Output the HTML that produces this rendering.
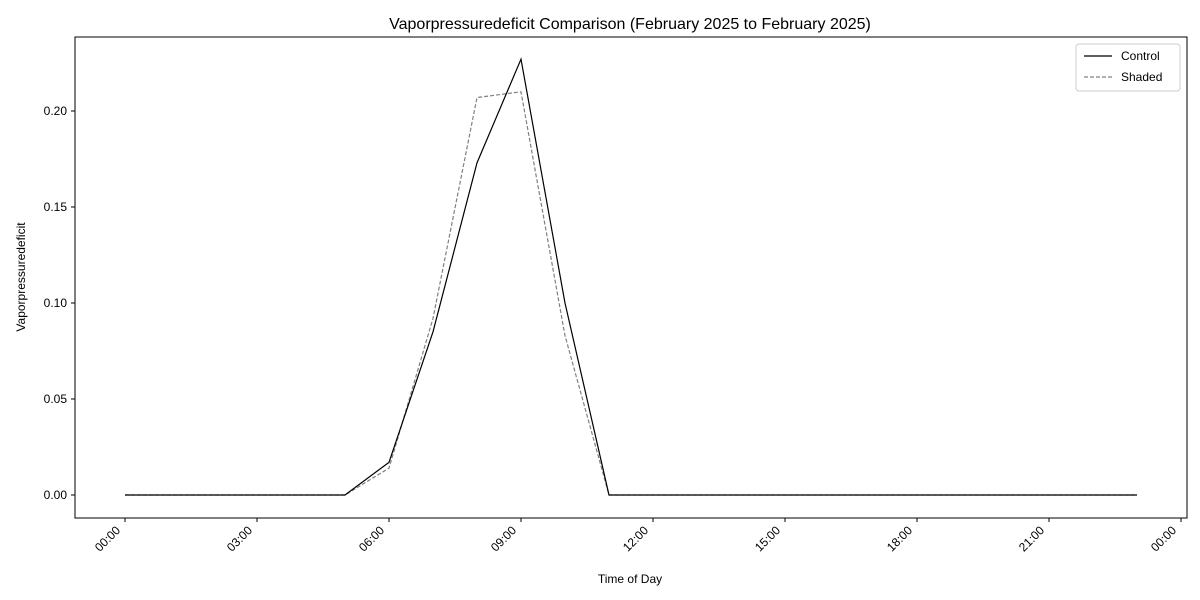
<!DOCTYPE html>
<html><head><meta charset="utf-8"><style>
body{margin:0;background:#fff;}
svg{display:block;font-family:"Liberation Sans","DejaVu Sans",sans-serif;}
</style></head><body>
<svg id="chart" width="1200" height="600"></svg>
<script>
const hours=[0,1,2,3,4,5,6,7,8,9,10,11,12,13,14,15,16,17,18,19,20,21,22,23];
const controlVals=[0,0,0,0,0,0,0.017,0.085,0.173,0.227,0.100,0,0,0,0,0,0,0,0,0,0,0,0,0];
const shadedVals=[0,0,0,0,0,0,0.014,0.092,0.207,0.210,0.083,0,0,0,0,0,0,0,0,0,0,0,0,0];
const yTicks=[0,0.05,0.10,0.15,0.20];
const xTickHours=[0,3,6,9,12,15,18,21,24];
const xTickLabels=["00:00","03:00","06:00","09:00","12:00","15:00","18:00","21:00","00:00"];

const NS="http://www.w3.org/2000/svg";
const svg=document.getElementById('chart');
const L=75,R=1187,T=37,B=518;
const xs=h=>125+h*44;
const ys=v=>495-v*1920;
function el(t,a,p){const e=document.createElementNS(NS,t);for(const k in a)e.setAttribute(k,a[k]);(p||svg).appendChild(e);return e;}

const title=el('text',{x:630,y:29,'text-anchor':'middle','font-size':16});
title.textContent="Vaporpressuredeficit Comparison (February 2025 to February 2025)";



yTicks.forEach(v=>{
  const y=ys(v);
  const tk=el('line',{x1:L-4,x2:L,y1:y,y2:y,stroke:'#000'});
  
  
  const t=el('text',{x:L-8,y:y+4,'text-anchor':'end','font-size':12});
  t.textContent=v.toFixed(2);
  
  
});
xTickHours.forEach((h,i)=>{
  const x=xs(h);
  const tk=el('line',{x1:x,x2:x,y1:B,y2:B+4,stroke:'#000'});
  
  
  const ax=x-4, ay=B+13;
  const t=el('text',{x:ax,y:ay,'text-anchor':'end','font-size':12,transform:`rotate(-45 ${ax} ${ay})`});
  t.textContent=xTickLabels[i];
  
  
});

function series(vals,attrs,name){
  const d=vals.map((v,i)=>(i?'L':'M')+xs(hours[i])+' '+ys(v)).join(' ');
  const p=el('path',Object.assign({d:d,fill:'none'},attrs));
  
  
}
series(shadedVals,{stroke:'#808080','stroke-width':1.2,'stroke-dasharray':'4,2'},'shaded-line');
series(controlVals,{stroke:'#000','stroke-width':1.2},'control-line');

const frame=el('rect',{x:L,y:T,width:R-L,height:B-T,fill:'none',stroke:'#000','stroke-width':1});



const xl=el('text',{x:630,y:583,'text-anchor':'middle','font-size':12});
xl.textContent="Time of Day";


const yl=el('text',{x:25,y:277,'text-anchor':'middle','font-size':12,transform:'rotate(-90 25 277)'});
yl.textContent="Vaporpressuredeficit";



const lg=el('g',{});


el('rect',{x:1076,y:44,width:104,height:47,rx:3,fill:'#fff',stroke:'#ccc'},lg);
el('line',{x1:1084,x2:1112,y1:56,y2:56,stroke:'#000','stroke-width':1.2},lg);
const t1=el('text',{x:1121,y:60,'font-size':12},lg);t1.textContent="Control";


el('line',{x1:1084,x2:1112,y1:77,y2:77,stroke:'#808080','stroke-width':1.2,'stroke-dasharray':'4,2'},lg);
const t2=el('text',{x:1121,y:81,'font-size':12},lg);t2.textContent="Shaded";


</script>
</body></html>
